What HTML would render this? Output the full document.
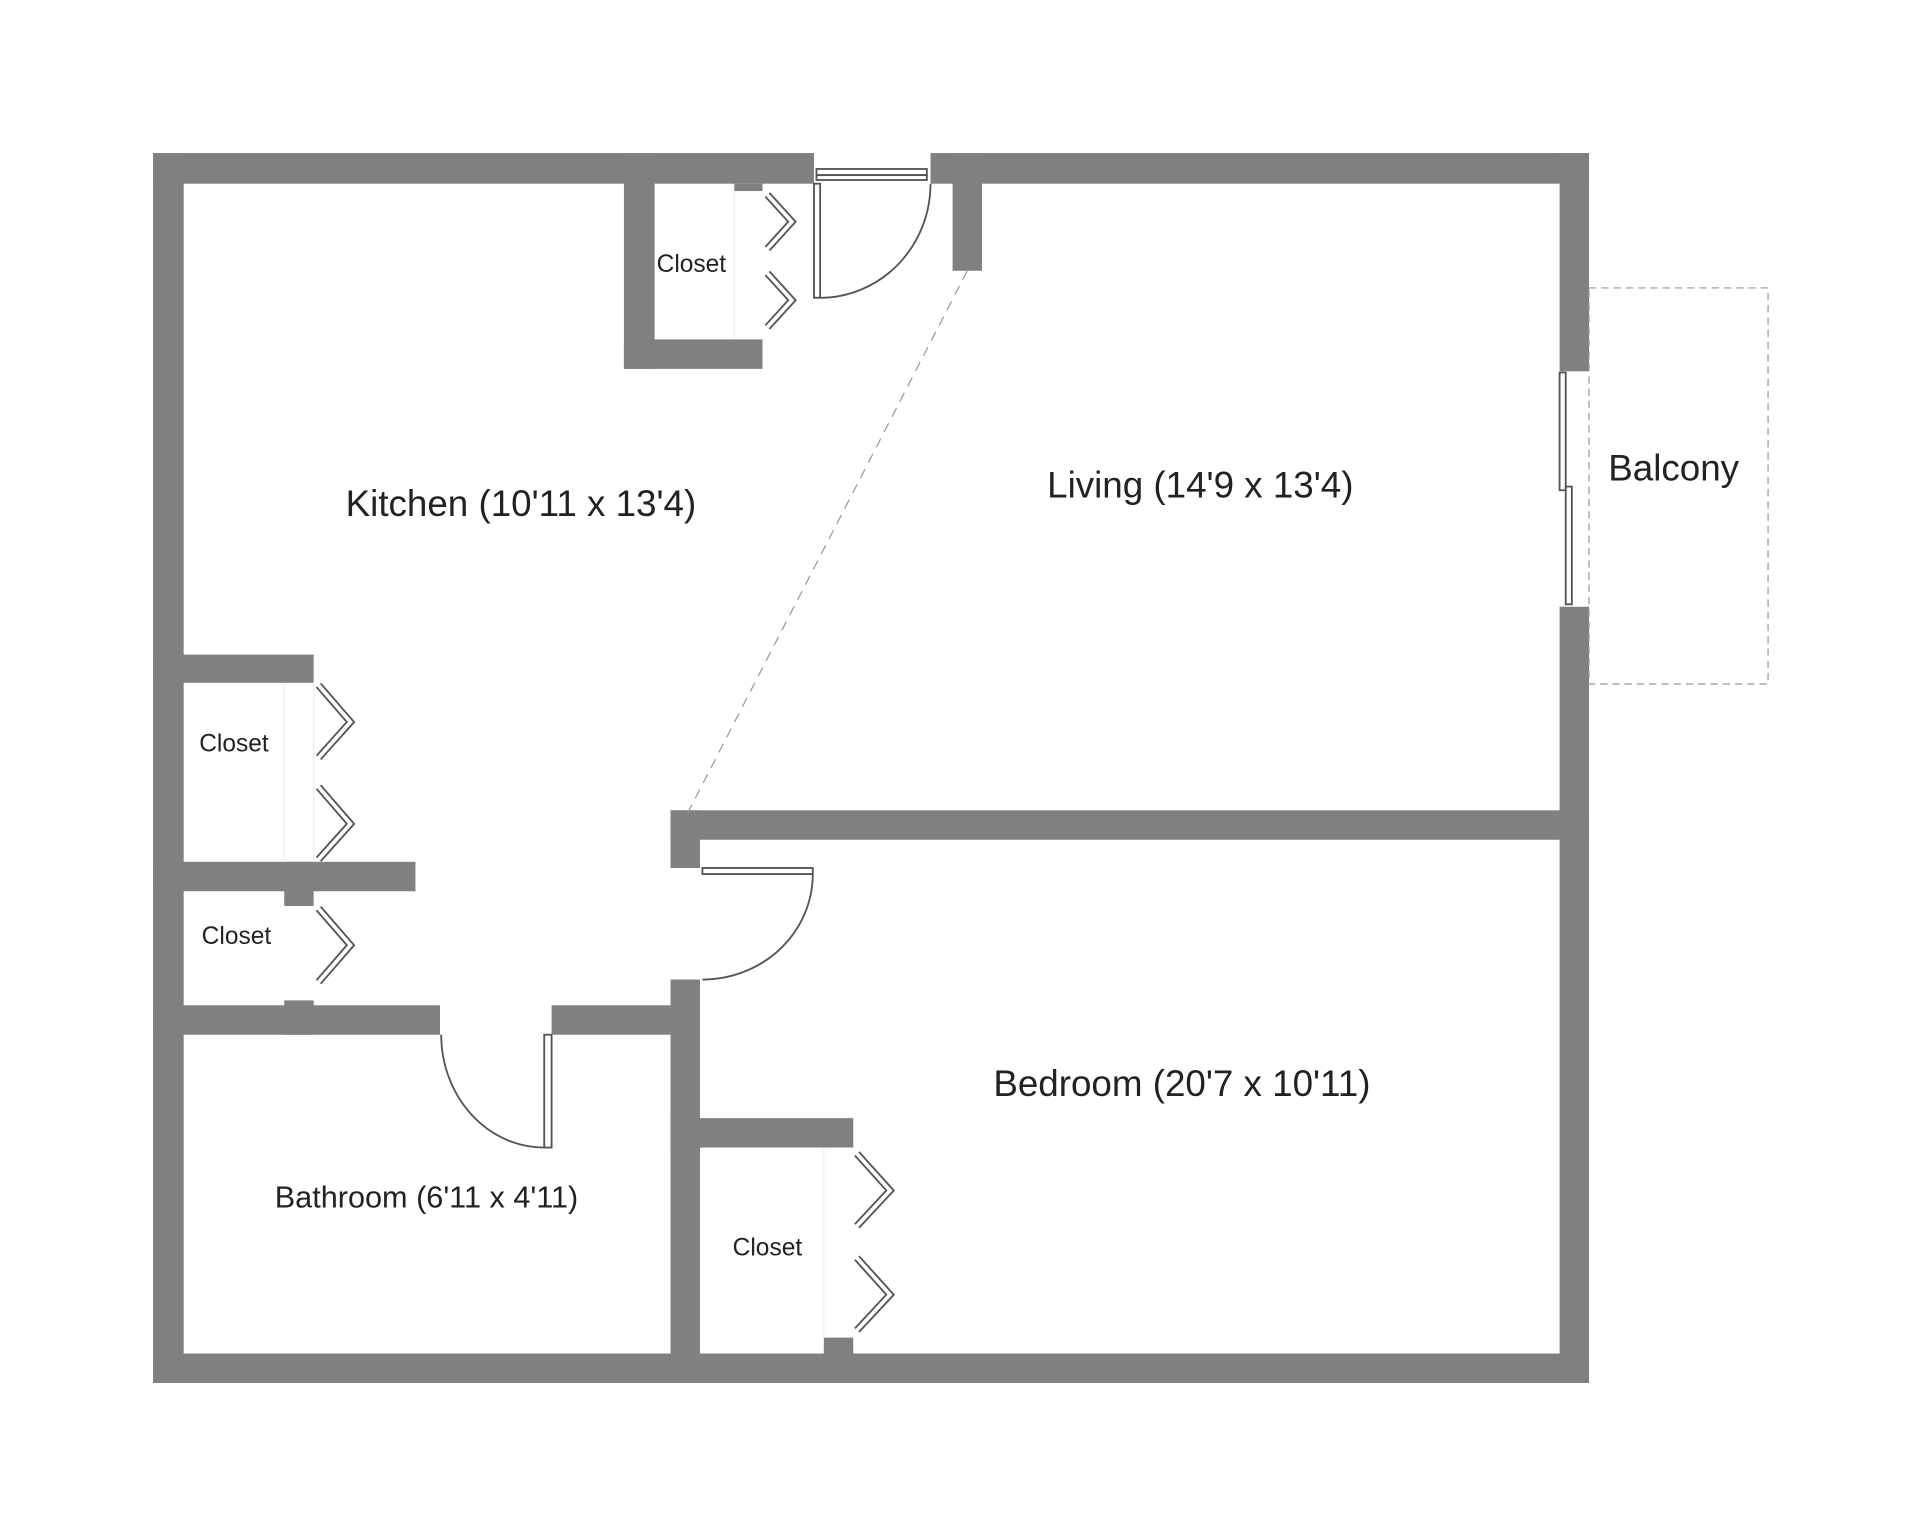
<!DOCTYPE html>
<html><head><style>html,body{margin:0;padding:0;background:#fff}svg{display:block}</style></head>
<body>
<svg width="1920" height="1537" viewBox="1.2 1.2 1565.7 1253.4" preserveAspectRatio="none" xmlns="http://www.w3.org/2000/svg" font-family="Liberation Sans, sans-serif" fill="#222">
<g fill="#808080">
<rect x="126" y="126" width="539" height="25"/>
<rect x="760" y="126" width="537" height="25"/>
<rect x="778" y="126" width="24" height="96"/>
<rect x="126" y="126" width="25" height="1003"/>
<rect x="126" y="1105" width="1171" height="24"/>
<rect x="1273" y="126" width="24" height="178"/>
<rect x="1273" y="496" width="24" height="633"/>
<rect x="510" y="126" width="25" height="176"/>
<rect x="510" y="278" width="113" height="24"/>
<rect x="600" y="151" width="23" height="6"/>
<rect x="126" y="535" width="131" height="23"/>
<rect x="126" y="704" width="214" height="24"/>
<rect x="233" y="704" width="24" height="36"/>
<rect x="126" y="821" width="234" height="24"/>
<rect x="451" y="821" width="97" height="24"/>
<rect x="233" y="817" width="24" height="28"/>
<rect x="548" y="662" width="24" height="47"/>
<rect x="548" y="800" width="24" height="329"/>
<rect x="548" y="662" width="749" height="24"/>
<rect x="548" y="913" width="149" height="24"/>
<rect x="673" y="1092" width="24" height="37"/>
</g>
<g stroke="#999" stroke-width="1" fill="none">
<line x1="790" y1="222" x2="560" y2="668" stroke-dasharray="8,6"/>
<rect x="1297" y="236" width="146" height="323" stroke-dasharray="6,4"/>
<line x1="233" y1="558" x2="233" y2="704" stroke="#eee"/><line x1="257" y1="558" x2="257" y2="704" stroke="#eee"/>
<line x1="600" y1="157" x2="600" y2="278" stroke="#eee"/>
<line x1="673" y1="937" x2="673" y2="1092" stroke="#eee"/>
</g>
<g stroke="#555" stroke-width="1.5" fill="#fff">
<rect x="667" y="139" width="90" height="5"/>
<rect x="667" y="144" width="90" height="4"/>
<rect x="665" y="151" width="5" height="93"/>
<rect x="574" y="709" width="90" height="5"/>
<rect x="445" y="845" width="6" height="92"/>
<rect x="1273" y="305" width="5" height="96"/>
<rect x="1278" y="398" width="5" height="96"/>
</g>
<g stroke="#555" stroke-width="1.5" fill="none">
<path d="M670 244 A90 93 0 0 0 760 151"/>
<path d="M664 714 A90 86 0 0 1 574 800"/>
<path d="M361 845 A84 92 0 0 0 445 937"/>
</g>
<g stroke="#555" stroke-width="6" fill="none" stroke-linejoin="miter">
<path d="M627 160 L647 182 L627 204 M627 224 L647 246 L627 268"/>
<path d="M261 560 L287 590 L261 619 M261 643 L287 673 L261 702 M261 742 L287 772 L261 802"/>
<path d="M700 942 L727 972 L700 1001 M700 1027 L727 1057 L700 1086"/>
</g>
<g stroke="#fff" stroke-width="3" fill="none">
<path d="M627 160 L647 182 L627 204 M627 224 L647 246 L627 268"/>
<path d="M261 560 L287 590 L261 619 M261 643 L287 673 L261 702 M261 742 L287 772 L261 802"/>
<path d="M700 942 L727 972 L700 1001 M700 1027 L727 1057 L700 1086"/>
</g>
<g text-anchor="middle">
<text x="426" y="422" font-size="30">Kitchen (10'11 x 13'4)</text>
<text x="980" y="407" font-size="30">Living (14'9 x 13'4)</text>
<text x="1366" y="393" font-size="30">Balcony</text>
<text x="965" y="895" font-size="30">Bedroom (20'7 x 10'11)</text>
<text x="349" y="986" font-size="25">Bathroom (6'11 x 4'11)</text>
<text x="565" y="223" font-size="20">Closet</text>
<text x="192" y="614" font-size="20">Closet</text>
<text x="194" y="771" font-size="20">Closet</text>
<text x="627" y="1025" font-size="20">Closet</text>
</g>
</svg>
</body></html>
